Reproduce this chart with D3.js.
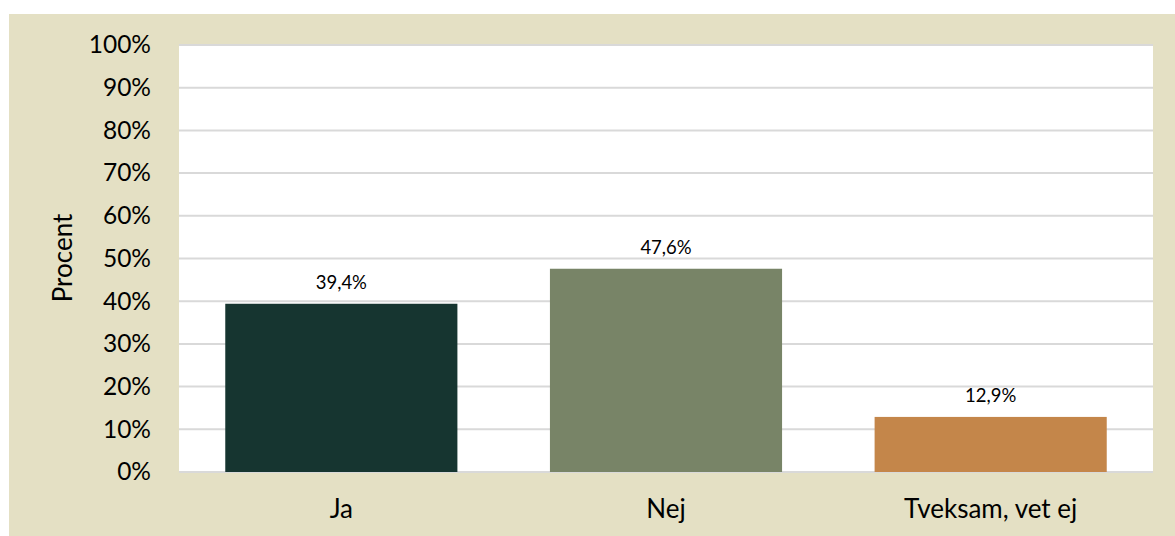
<!DOCTYPE html>
<html>
<head>
<meta charset="utf-8">
<script src="https://cdn.jsdelivr.net/npm/d3@7"></script>
<style>
body { margin: 0; background: #fff; }
svg text { font-family: Lato, "Open Sans", sans-serif; fill: #000; }
</style>
</head>
<body>
<svg width="1175" height="536"></svg>
<script>
var categories = ["Ja", "Nej", "Tveksam, vet ej"];
var values = [39.4, 47.6, 12.9];
var colors = ["#163530", "#788467", "#c4864a"];
var tickValues = [0, 10, 20, 30, 40, 50, 60, 70, 80, 90, 100];

var svg = d3.select("svg");
var plotLeft = 179, plotRight = 1153, plotTop = 45, plotBottom = 472;

// beige chart area
svg.append("rect").attr("x", 9).attr("y", 14).attr("width", 1166).attr("height", 522).attr("fill", "#e4e0c4");
svg.append("rect").attr("x", plotLeft).attr("y", plotTop).attr("width", plotRight - plotLeft).attr("height", plotBottom - plotTop).attr("fill", "#fff");

var x = d3.scaleBand().domain(categories).range([plotLeft, plotRight]).paddingInner(0.285).paddingOuter(0.1425);
var y = d3.scaleLinear().domain([0, 100]).range([plotBottom, plotTop]);

// gridlines
svg.append("g").selectAll("line").data(tickValues).join("line")
	.attr("x1", plotLeft).attr("x2", plotRight)
	.attr("y1", d => y(d)).attr("y2", d => y(d))
	.attr("stroke", "#d9d9d9").attr("stroke-width", 2);

// bars
svg.append("g").selectAll("rect").data(values).join("rect")
	.attr("x", (d, i) => x(categories[i]))
	.attr("width", x.bandwidth())
	.attr("y", d => y(d))
	.attr("height", d => y(0) - y(d))
	.attr("fill", (d, i) => colors[i]);

// value labels
svg.append("g").selectAll("text").data(values).join("text")
	.attr("x", (d, i) => x(categories[i]) + x.bandwidth() / 2)
	.attr("y", d => y(d) - 22)
	.attr("text-anchor", "middle").attr("dominant-baseline", "central")
	.style("font-size", "18.5px")
	.text(d => d.toFixed(1).replace(".", ",") + "%");

// y axis
var yaxis = d3.axisLeft(y).tickValues(tickValues).tickFormat(d => d + "%").tickSize(0).tickPadding(28);
var gy = svg.append("g").attr("transform", "translate(" + plotLeft + ",0)").call(yaxis);
gy.select(".domain").remove();
gy.selectAll("text").style("font-size", "24.5px").style("font-family", "Lato, 'Open Sans', sans-serif").attr("fill", "#000");

// x axis
var xaxis = d3.axisBottom(x).tickSize(0).tickPadding(27.5);
var gx = svg.append("g").attr("transform", "translate(0," + plotBottom + ")").call(xaxis);
gx.select(".domain").remove();
gx.selectAll("text").style("font-size", "26px").style("font-family", "Lato, 'Open Sans', sans-serif").attr("fill", "#000");

// axis title
svg.append("text")
	.attr("transform", "translate(62,258) rotate(-90)")
	.attr("text-anchor", "middle").attr("dominant-baseline", "central")
	.style("font-size", "26px")
	.text("Procent");
</script>
</body>
</html>
